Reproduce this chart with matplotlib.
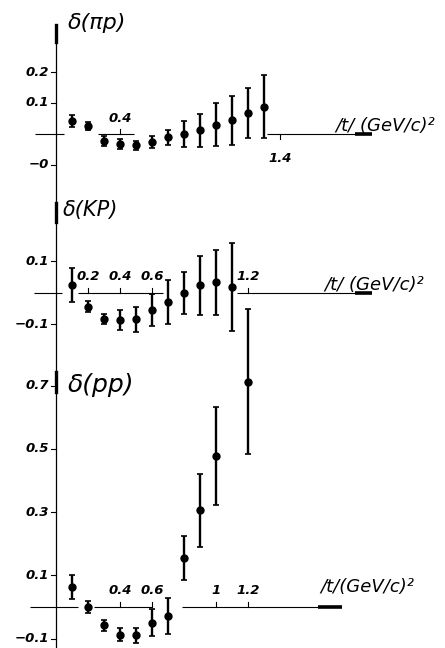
import numpy as np
import matplotlib
matplotlib.use("Agg")
import matplotlib.pyplot as plt

plt.rcParams["font.family"] = "DejaVu Sans"

# ---- data ----
t_pip = [0.1, 0.2, 0.3, 0.4, 0.5, 0.6, 0.7, 0.8, 0.9, 1.0, 1.1, 1.2, 1.3]
d_pip = [0.042, 0.026, -0.023, -0.033, -0.037, -0.026, -0.011, -0.001, 0.012, 0.030, 0.045, 0.067, 0.088]
e_pip = [0.020, 0.012, 0.016, 0.016, 0.015, 0.020, 0.024, 0.042, 0.053, 0.069, 0.079, 0.081, 0.101]

t_kp = [0.1, 0.2, 0.3, 0.4, 0.5, 0.6, 0.7, 0.8, 0.9, 1.0, 1.1]
d_kp = [0.024, -0.043, -0.083, -0.086, -0.084, -0.054, -0.029, 0.0, 0.024, 0.034, 0.018]
e_kp = [0.054, 0.017, 0.016, 0.033, 0.040, 0.050, 0.071, 0.067, 0.095, 0.104, 0.140]

t_pp = [0.1, 0.2, 0.3, 0.4, 0.5, 0.6, 0.7, 0.8, 0.9, 1.0, 1.2]
d_pp = [0.062, 0.0, -0.058, -0.088, -0.090, -0.050, -0.030, 0.154, 0.306, 0.479, 0.713]
e_pp = [0.038, 0.018, 0.018, 0.020, 0.025, 0.043, 0.057, 0.070, 0.116, 0.155, 0.230]

yticks_pip = [0.2, 0.1, -0.1]
ylabels_pip = ["0.2", "0.1", "\u22120"]
yticks_kp = [0.1, -0.1]
ylabels_kp = ["0.1", "\u22120.1"]
yticks_pp = [0.7, 0.5, 0.3, 0.1, -0.1]
ylabels_pp = ["0.7", "0.5", "0.3", "0.1", "\u22120.1"]

W, H = 445, 648
X0, XS = 56, 160.0   # x=0 at pixel 56, 160 px per unit of |t|

fig = plt.figure(figsize=(W/100.0, H/100.0), dpi=100)

tick_font = dict(fontsize=9.5, style='italic', fontweight='bold')
lab_font = dict(fontsize=13, style='italic')

def make_panel(zero_px, ys):
    ax = fig.add_axes([0, 0, 1, 1])
    ax.set_xlim(-X0/XS, (W - X0)/XS)
    ax.set_ylim((zero_px - H)/ys, zero_px/ys)
    ax.axis('off')
    ax.patch.set_alpha(0)
    return ax

def draw_panel(ax, t, d, e, segs, arrow, yt, yl, xt_up, xl_up, ys):
    # broken x-axis like the original drawing
    for a, b in segs:
        ax.plot([a, b], [0, 0], color='k', lw=0.8, solid_capstyle='butt')
    ax.plot(arrow, [0, 0], color='k', lw=2.6, solid_capstyle='butt')
    tl = 5.0/ys
    for v in xt_up:
        ax.plot([v, v], [0, tl], color='k', lw=0.8)
    for v, s in zip(xt_up, xl_up):
        ax.text(v, 16.0/ys, s, ha='center', va='center', **tick_font)
    for v, s in zip(yt, yl):
        ax.plot([-5.0/XS, 0], [v, v], color='k', lw=0.8)
        ax.text(-7.0/XS, v, s, ha='right', va='center', **tick_font)
    ax.errorbar(t, d, yerr=e, fmt='o', color='k', ms=5, elinewidth=1.7,
                capsize=2.3, capthick=1.2, clip_on=False)

# panel 1: pi p
ax1 = make_panel(134, 310.0)
draw_panel(ax1, t_pip, d_pip, e_pip,
           [(-0.13, 0.05), (0.26, 0.49), (1.32, 1.97)], [1.87, 1.975],
           yticks_pip, ylabels_pip, [0.4], ["0.4"], 310.0)
ax1.plot([1.4, 1.4], [0, -5.0/310], color='k', lw=0.8)
ax1.text(1.4, -24.0/310, "1.4", ha='center', va='center', **tick_font)
ax1.text(0.075, 111.0/310, "\u03b4(\u03c0p)", ha='left', va='center', fontsize=16, style='italic')
ax1.text(1.744, -0.003, "/t/ (GeV/c)\u00b2", ha='left', va='bottom', **lab_font)

# vertical axis, one line through all three panels, with arrow marks
ax1.axvline(0, ymin=0, ymax=1 - 25.0/H, color='k', lw=0.9)
for top, bot in [(25, 42), (203, 222), (372, 392)]:
    ax1.axvline(0, ymin=1 - bot/float(H), ymax=1 - top/float(H), color='k', lw=2.4)

# panel 2: K p
ax2 = make_panel(293, 315.0)
draw_panel(ax2, t_kp, d_kp, e_kp,
           [(-0.14, 0.04), (0.14, 0.67), (1.13, 1.97)], [1.87, 1.975],
           yticks_kp, ylabels_kp, [0.2, 0.4, 0.6, 1.2], ["0.2", "0.4", "0.6", "1.2"], 315.0)
ax2.text(0.045, 83.0/315, "\u03b4(KP)", ha='left', va='center', fontsize=15, style='italic')
ax2.text(1.68, -0.003, "/t/ (GeV/c)\u00b2", ha='left', va='bottom', **lab_font)

# panel 3: p p
ax3 = make_panel(607, 316.0)
draw_panel(ax3, t_pp, d_pp, e_pp,
           [(-0.16, 0.14), (0.24, 0.60), (0.79, 1.64)], [1.64, 1.79],
           yticks_pp, ylabels_pp, [0.4, 0.6, 1.0, 1.2], ["0.4", "0.6", "1", "1.2"], 316.0)
ax3.text(0.075, 222.0/316, "\u03b4(pp)", ha='left', va='center', fontsize=18, style='italic')
ax3.text(1.65, 20.0/316, "/t/(GeV/c)\u00b2", ha='left', va='center', **lab_font)

plt.savefig('out.png', dpi=100)
